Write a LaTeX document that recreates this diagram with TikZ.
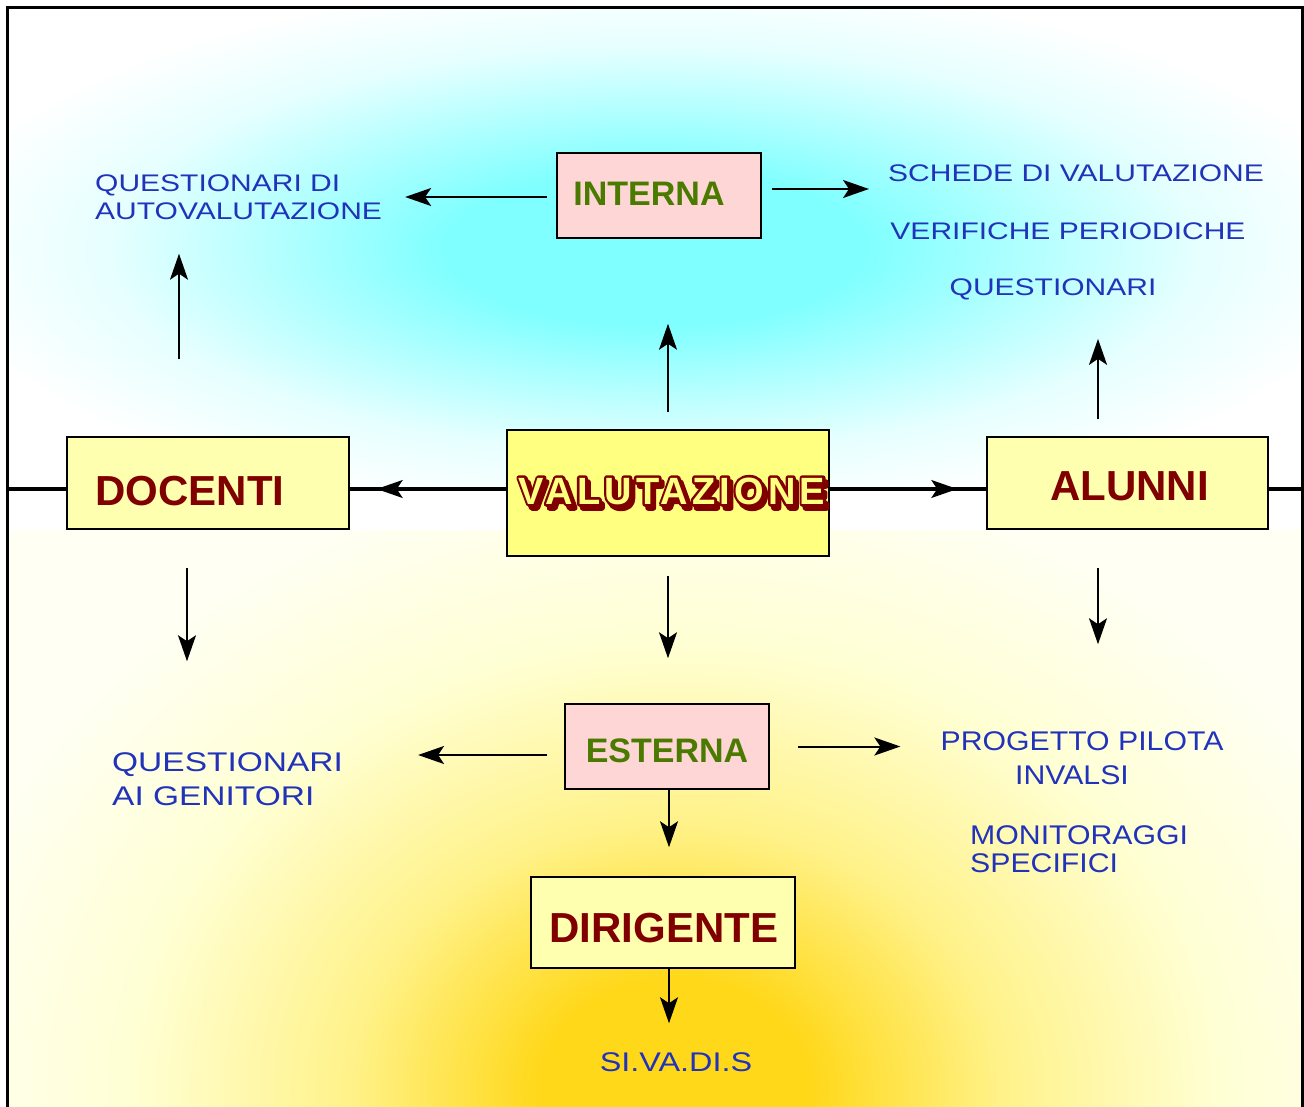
\documentclass[tikz,border=0pt]{standalone}
\usepackage{fontspec}
\setmainfont{Liberation Sans}
\usetikzlibrary{arrows.meta}
\definecolor{skycore}{HTML}{7FFFFF}
\definecolor{skyedge}{HTML}{E6FFFF}
\definecolor{suncore}{HTML}{FFD81A}
\definecolor{sunmid}{HTML}{FFF28A}
\definecolor{sunpale}{HTML}{FFFFD4}
\definecolor{sunedge}{HTML}{FFFFF4}
\definecolor{paleyellow}{HTML}{FFFFB0}
\definecolor{valfill}{HTML}{FFFF80}
\definecolor{rosefill}{HTML}{FFD6D6}
\definecolor{darkred}{HTML}{800000}
\definecolor{leafgreen}{HTML}{4A7A00}
\definecolor{noteblue}{HTML}{2233BB}
\pgfdeclareradialshading{skyglow}{\pgfpointorigin}{color(0bp)=(skycore); color(8bp)=(skycore); color(21bp)=(skyedge); color(28bp)=(white); color(50bp)=(white)}
\pgfdeclareradialshading{sunglow}{\pgfpointorigin}{color(0bp)=(suncore); color(5bp)=(suncore); color(12bp)=(sunmid); color(20bp)=(sunpale); color(28bp)=(sunedge); color(50bp)=(sunedge)}
\newcommand{\valtext}[1]{\special{pdf:literal direct 1 j 1 J}\makebox[0pt][l]{\hspace{3pt}\raisebox{-4pt}{\addfontfeature{FakeBold=14}\textcolor{darkred}{#1}}}\makebox[0pt][l]{\addfontfeature{FakeBold=14}\textcolor{darkred}{#1}}\textcolor{valfill}{#1}}
\newcommand{\nudge}[3]{\raisebox{#2}[\height][\depth]{\hspace*{#1}#3\hspace*{-#1}}}

\begin{document}
\begin{tikzpicture}[x=1pt,y=-1pt,
		sidebox/.style={draw, line width=1.5pt, fill=paleyellow, text=darkred, font=\fontsize{42}{46}\selectfont\bfseries, minimum width=282pt, minimum height=92pt},
		sortbox/.style={draw, line width=1.5pt, fill=rosefill, text=leafgreen, font=\fontsize{34}{38}\selectfont\bfseries, minimum width=204pt, minimum height=85pt},
		note/.style={text=noteblue, font=\fontsize{24}{28}\selectfont\addfontfeature{FakeStretch=1.25}, inner sep=0pt},
		lownote/.style={text=noteblue, font=\fontsize{27}{31}\selectfont\addfontfeature{FakeStretch=#1}, inner sep=0pt},
		lownote/.default=1.12,
		arrow/.style={line width=2pt, -{Stealth[length=26pt,width=18pt,inset=6pt]}}]
		\useasboundingbox (0,0) rectangle (1304,1107);

		\begin{scope}
			\clip (7,8) rectangle (1302,489);
			\shade[shading=skyglow] (7,8) rectangle (1302,489);
		\end{scope}
		\begin{scope}
			\clip (7,489) rectangle (1302,1107);
			\shade[shading=sunglow] (-5,530) rectangle (1355,1650);
		\end{scope}
		\draw[line width=3pt] (7,1107) -- (7,8) -- (1302,8) -- (1302,1107);

		\coordinate (lb) at (7,489);
		\coordinate (rb) at (1302,489);
		\draw[line width=3.5pt] (lb) -- (rb);

		\node (interna) [sortbox] at (659,195.5) {\nudge{-10pt}{2pt}{INTERNA}};
		\node (esterna) [sortbox] at (667,746.5) {\nudge{0pt}{-4pt}{ESTERNA}};
		\node (docenti) [sidebox] at (208,483) {\nudge{-18pt}{-8pt}{DOCENTI}};
		\node (alunni) [sidebox, minimum width=281pt] at (1127.5,483) {\nudge{2pt}{-3pt}{ALUNNI}};
		\node (dirigente) [sidebox, minimum width=264pt, minimum height=91pt] at (663,922.5) {\nudge{1pt}{-6pt}{DIRIGENTE}};
		\node (valutazione) [draw, line width=1.5pt, fill=valfill, minimum width=322pt, minimum height=126pt,
			font=\fontsize{38}{42}\selectfont\bfseries\addfontfeature{LetterSpace=11}] at (668,493) {\nudge{4pt}{0pt}{\valtext{VALUTAZIONE}}};

		\node (autoval) [note, anchor=west, align=left] at (95,197) {QUESTIONARI DI\\AUTOVALUTAZIONE};
		\node (schede) [note] at (1076,173) {SCHEDE DI VALUTAZIONE};
		\node (verifiche) [note] at (1068,231) {VERIFICHE PERIODICHE};
		\node (quest) [note] at (1053,289) {QUESTIONARI};
		\node (genitori) [lownote=1.24, anchor=west, align=left] at (112,779) {QUESTIONARI\\[3pt]AI GENITORI};
		\node (invalsi) [lownote, align=center] at (1082,758) {PROGETTO PILOTA\\[3pt]INVALSI\hspace*{20pt}};
		\node (monit) [lownote, anchor=west, align=left] at (970,849) {MONITORAGGI\\[-3pt]SPECIFICI};
		\node (sivadis) [lownote=1.2] at (676,1062) {SI.VA.DI.S};

		\draw[arrow, shorten >=27pt] (valutazione.west |- lb) -- (docenti.east |- lb);
		\draw[arrow, shorten >=29pt] (valutazione.east |- rb) -- (alunni.west |- rb);
		\draw[arrow, shorten <=9pt, shorten >=23pt] ([yshift=-1.5pt]interna.west) -- ([yshift=-1.5pt]interna.west -| autoval.east);
		\draw[arrow, shorten <=10pt, shorten >=19pt] ([yshift=6.5pt]interna.east) -- ([yshift=6.5pt]interna.east -| schede.west);
		\draw[arrow, shorten <=17pt, shorten >=85pt] (valutazione.north) -- (valutazione.north |- interna.south);
		\draw[arrow, shorten <=77pt, shorten >=34pt] ([xshift=-29pt]docenti.north) -- ([xshift=-29pt]docenti.north |- autoval.south);
		\draw[arrow, shorten <=17pt, shorten >=39pt] ([xshift=-29.5pt]alunni.north) -- ([xshift=-29.5pt]alunni.north |- quest.south);
		\draw[arrow, shorten <=38pt, shorten >=91pt] ([xshift=-21pt]docenti.south) -- ([xshift=-21pt]docenti.south |- genitori.north);
		\draw[arrow, shorten <=19pt, shorten >=45pt] (valutazione.south) -- (valutazione.south |- esterna.north);
		\draw[arrow, shorten <=38pt, shorten >=87pt] ([xshift=-29.5pt]alunni.south) -- ([xshift=-29.5pt]alunni.south |- invalsi.north);
		\draw[arrow, shorten <=17pt, shorten >=75pt] ([yshift=-8.5pt]esterna.west) -- ([yshift=-8.5pt]esterna.west -| genitori.east);
		\draw[arrow, shorten <=28pt, shorten >=40pt] (esterna.east) -- (esterna.east -| invalsi.west);
		\draw[arrow, shorten >=29pt] ([xshift=2pt]esterna.south) -- ([xshift=2pt]esterna.south |- dirigente.north);
		\draw[arrow, shorten >=29pt] ([xshift=6pt]dirigente.south) -- ([xshift=6pt]dirigente.south |- sivadis.north);
	\end{tikzpicture}
\end{document}
